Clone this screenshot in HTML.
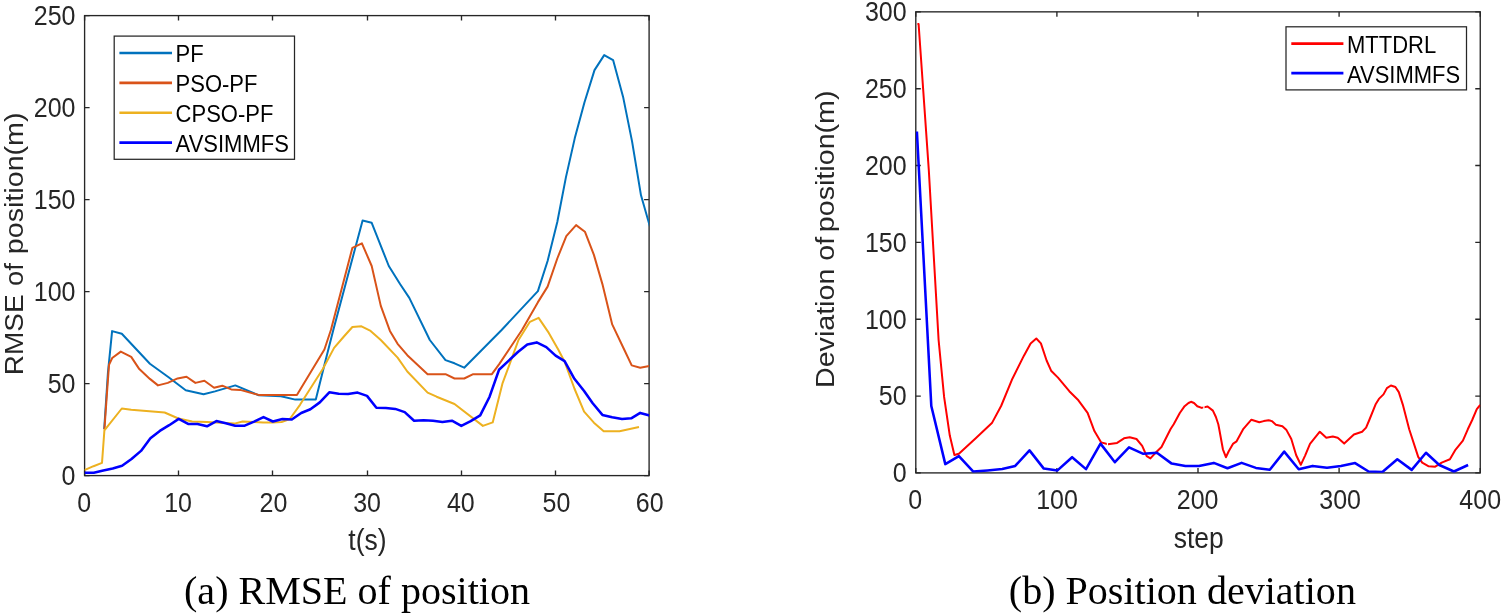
<!DOCTYPE html>
<html lang="en"><head><meta charset="utf-8"><title>Figure</title>
<style>
html,body{margin:0;padding:0;background:#fff;}
body{width:1502px;height:615px;overflow:hidden;}
svg{display:block}
text{font-family:"Liberation Sans",Arial,sans-serif;fill:#262626}
.tk{font-size:25px}
.lb{font-size:26.5px}
.lg{font-size:22px;fill:#000}
.cp{font-family:"Liberation Serif","Times New Roman",serif;font-size:40.05px;fill:#000}
</style></head><body>
<svg width="1502" height="615" viewBox="0 0 1502 615">
<rect width="1502" height="615" fill="#fff"/>
<rect x="84.6" y="15.6" width="564.50" height="460.00" fill="#fff" stroke="#262626" stroke-width="1.35"/>
<text class="tk" transform="translate(84.1 511.8) scale(1 1.08)" text-anchor="middle">0</text>
<text class="tk" transform="translate(178.1 511.8) scale(1 1.08)" text-anchor="middle">10</text>
<text class="tk" transform="translate(273.5 511.8) scale(1 1.08)" text-anchor="middle">20</text>
<text class="tk" transform="translate(367.1 511.8) scale(1 1.08)" text-anchor="middle">30</text>
<text class="tk" transform="translate(460.8 511.8) scale(1 1.08)" text-anchor="middle">40</text>
<text class="tk" transform="translate(556.4 511.8) scale(1 1.08)" text-anchor="middle">50</text>
<text class="tk" transform="translate(649.7 511.8) scale(1 1.08)" text-anchor="middle">60</text>
<text class="tk" transform="translate(75.5 484.9) scale(1 1.08)" text-anchor="end">0</text>
<text class="tk" transform="translate(75.5 392.9) scale(1 1.08)" text-anchor="end">50</text>
<text class="tk" transform="translate(75.5 300.9) scale(1 1.08)" text-anchor="end">100</text>
<text class="tk" transform="translate(75.5 208.9) scale(1 1.08)" text-anchor="end">150</text>
<text class="tk" transform="translate(75.5 116.9) scale(1 1.08)" text-anchor="end">200</text>
<text class="tk" transform="translate(75.5 24.9) scale(1 1.08)" text-anchor="end">250</text>
<path d="M84.6 475.6v-5M84.6 15.6v5M178.5 475.6v-5M178.5 15.6v5M272.5 475.6v-5M272.5 15.6v5M367.5 475.6v-5M367.5 15.6v5M461.5 475.6v-5M461.5 15.6v5M555.5 475.6v-5M555.5 15.6v5M649.1 475.6v-5M649.1 15.6v5M84.6 475.6h5M649.1 475.6h-5M84.6 383.6h5M649.1 383.6h-5M84.6 291.6h5M649.1 291.6h-5M84.6 199.6h5M649.1 199.6h-5M84.6 107.6h5M649.1 107.6h-5M84.6 15.6h5M649.1 15.6h-5" stroke="#262626" stroke-width="1.35" fill="none"/>
<text class="lb" transform="translate(367.5 550.0) scale(1 1.08)" text-anchor="middle">t(s)</text>
<text class="lb" transform="translate(22.6 375.2) rotate(-90) scale(1.055 1)" text-anchor="start">RMSE</text>
<text class="lb" transform="translate(22.6 286.0) rotate(-90) scale(1.03 1)" text-anchor="start">of</text>
<text class="lb" transform="translate(22.6 254.2) rotate(-90) scale(1.082 1)" text-anchor="start">position(m)</text>
<clipPath id="cl"><rect x="84.6" y="15.6" width="564.5" height="460.0"/></clipPath>
<g clip-path="url(#cl)">
<polyline points="104.2,429.0 107.9,373.2 112.1,331.1 121.8,333.8 149.9,363.7 168.6,377.2 185.7,390.2 203.6,394.3 215.0,391.4 235.3,385.4 258.9,395.3 281.0,396.3 295.3,399.6 315.8,399.6 324.4,365.0 333.3,330.0 362.6,220.5 371.7,222.8 388.8,266.0 400.2,284.2 409.3,297.9 429.8,340.0 445.5,360.1 454.5,363.3 464.2,367.7 501.6,330.0 537.9,291.1 547.6,261.0 557.3,222.0 565.9,177.4 574.8,138.1 584.5,102.3 594.5,70.1 604.2,55.1 613.1,60.1 623.1,96.9 632.1,141.6 641.0,195.3 650.0,226.8" fill="none" stroke="#0072BD" stroke-width="2.0" stroke-linejoin="round" stroke-linecap="butt"/>
<polyline points="104.4,429.6 106.7,397.0 109.0,364.9 112.2,358.0 120.8,351.6 131.2,356.9 139.3,369.1 149.9,378.9 158.0,385.4 167.8,382.9 177.6,378.4 186.5,376.7 195.4,382.9 204.4,380.8 214.1,387.8 222.3,385.7 231.2,389.4 240.2,389.9 259.4,395.1 296.9,395.1 324.4,349.5 330.9,330.0 352.4,247.8 361.9,243.3 371.7,266.0 380.8,305.9 389.9,330.9 397.6,343.8 407.3,355.2 427.6,374.2 445.5,374.2 454.5,378.5 464.2,378.5 473.2,374.2 491.9,374.2 499.2,364.1 522.0,330.0 537.8,302.4 547.6,286.6 557.3,258.5 566.3,236.1 576.1,225.1 584.9,231.7 593.9,254.9 602.4,284.1 612.2,324.4 624.4,350.0 631.7,365.4 640.2,367.8 649.3,366.1" fill="none" stroke="#D95319" stroke-width="2.0" stroke-linejoin="round" stroke-linecap="butt"/>
<polyline points="84.4,470.2 93.5,466.2 102.0,462.9 104.4,430.4 121.8,408.5 131.2,409.8 164.6,412.5 178.4,418.5 192.2,421.5 206.8,422.0 234.5,423.6 242.6,421.5 254.0,422.0 263.2,422.6 272.7,422.6 281.6,422.0 289.8,419.0 300.0,404.8 322.8,369.0 334.1,347.9 343.9,336.5 352.4,327.0 361.5,326.3 370.6,330.9 380.8,340.0 397.6,357.6 407.3,371.5 427.6,392.6 436.6,396.7 454.5,404.0 482.9,425.9 492.7,422.4 502.4,383.7 518.5,340.0 529.9,321.8 538.6,317.9 548.8,332.9 558.5,350.0 564.6,361.7 574.4,388.5 584.1,411.7 593.9,422.7 603.7,431.2 619.5,431.2 639.0,427.1" fill="none" stroke="#EDB120" stroke-width="2.0" stroke-linejoin="round" stroke-linecap="butt"/>
<polyline points="84.4,472.7 93.8,472.7 103.3,470.4 112.7,468.4 122.1,465.8 131.5,459.0 141.0,450.9 150.4,438.2 159.8,430.9 169.2,425.2 178.7,418.9 188.1,423.9 197.5,423.9 207.0,426.3 216.4,421.1 225.8,423.2 235.2,425.7 244.7,425.7 254.1,421.7 263.5,417.1 272.9,421.5 282.4,419.1 291.8,419.5 301.2,413.0 310.4,409.3 319.8,402.4 329.3,392.3 338.7,393.7 348.1,393.9 357.6,392.6 367.0,395.9 376.4,407.7 385.9,408.0 395.3,408.9 404.7,412.1 414.1,420.7 423.6,420.2 433.0,420.7 442.4,421.9 451.9,420.7 461.3,425.9 470.7,421.1 480.2,415.4 489.6,396.7 499.0,369.8 508.5,360.9 517.9,352.0 527.3,344.4 536.7,342.4 546.3,347.1 555.6,355.6 564.6,361.2 574.4,378.8 584.1,391.0 592.7,403.2 602.4,414.9 612.2,417.3 622.0,419.0 631.2,418.3 640.2,412.9 649.6,415.4" fill="none" stroke="#0000FF" stroke-width="2.55" stroke-linejoin="round" stroke-linecap="butt"/>
</g>
<rect x="114.2" y="36.1" width="180.3" height="123.2" fill="#fff" stroke="#262626" stroke-width="1.25"/>
<line x1="119.4" y1="53.0" x2="172.0" y2="53.0" stroke="#0072BD" stroke-width="2.6"/>
<text class="lg" transform="translate(175.6 61.9) scale(1 1.06)" text-anchor="start">PF</text>
<line x1="119.4" y1="82.9" x2="172.0" y2="82.9" stroke="#D95319" stroke-width="2.6"/>
<text class="lg" transform="translate(175.6 91.8) scale(1 1.06)" text-anchor="start">PSO-PF</text>
<line x1="119.4" y1="112.8" x2="172.0" y2="112.8" stroke="#EDB120" stroke-width="2.6"/>
<text class="lg" transform="translate(175.6 121.7) scale(1 1.06)" text-anchor="start">CPSO-PF</text>
<line x1="119.4" y1="142.7" x2="172.0" y2="142.7" stroke="#0000FF" stroke-width="2.8"/>
<text class="lg" transform="translate(175.6 151.6) scale(1 1.06)" text-anchor="start">AVSIMMFS</text>
<rect x="915.8" y="11.85" width="564.45" height="461.05" fill="#fff" stroke="#262626" stroke-width="1.35"/>
<text class="tk" transform="translate(915.1 509.2) scale(1 1.08)" text-anchor="middle">0</text>
<text class="tk" transform="translate(1057.0 509.2) scale(1 1.08)" text-anchor="middle">100</text>
<text class="tk" transform="translate(1197.6 509.2) scale(1 1.08)" text-anchor="middle">200</text>
<text class="tk" transform="translate(1340.1 509.2) scale(1 1.08)" text-anchor="middle">300</text>
<text class="tk" transform="translate(1480.2 509.2) scale(1 1.08)" text-anchor="middle">400</text>
<text class="tk" transform="translate(906.6 482.2) scale(1 1.08)" text-anchor="end">0</text>
<text class="tk" transform="translate(906.6 405.4) scale(1 1.08)" text-anchor="end">50</text>
<text class="tk" transform="translate(906.6 328.5) scale(1 1.08)" text-anchor="end">100</text>
<text class="tk" transform="translate(906.6 251.7) scale(1 1.08)" text-anchor="end">150</text>
<text class="tk" transform="translate(906.6 174.8) scale(1 1.08)" text-anchor="end">200</text>
<text class="tk" transform="translate(906.6 98.0) scale(1 1.08)" text-anchor="end">250</text>
<text class="tk" transform="translate(906.6 21.2) scale(1 1.08)" text-anchor="end">300</text>
<path d="M915.8 472.9v-5M915.8 11.85v5M1056.9 472.9v-5M1056.9 11.85v5M1198.0 472.9v-5M1198.0 11.85v5M1339.1 472.9v-5M1339.1 11.85v5M1480.2 472.9v-5M1480.2 11.85v5M915.8 472.9h5M1480.25 472.9h-5M915.8 396.1h5M1480.25 396.1h-5M915.8 319.2h5M1480.25 319.2h-5M915.8 242.4h5M1480.25 242.4h-5M915.8 165.5h5M1480.25 165.5h-5M915.8 88.7h5M1480.25 88.7h-5M915.8 11.9h5M1480.25 11.9h-5" stroke="#262626" stroke-width="1.35" fill="none"/>
<text class="lb" transform="translate(1198.8 547.9) scale(1 1.08)" text-anchor="middle">step</text>
<text class="lb" transform="translate(833.8 388.0) rotate(-90) scale(1.08 1)" text-anchor="start">Deviation of</text>
<text class="lb" transform="translate(833.8 232.2) rotate(-90) scale(1.082 1)" text-anchor="start">position(m)</text>
<clipPath id="cr"><rect x="915.8" y="11.85" width="564.5" height="461.0"/></clipPath>
<g clip-path="url(#cr)">
<polyline points="917.4,24.0 918.6,24.0 928.8,170.0 938.6,340.0 944.1,396.9 949.8,435.6 954.4,455.0 958.9,453.8 976.0,437.9 991.9,423.1 1001.1,406.0 1012.4,378.7 1023.8,355.9 1030.6,343.4 1036.3,338.5 1040.9,343.4 1046.6,360.5 1051.1,370.7 1058.0,377.6 1069.3,391.2 1078.4,400.3 1087.6,412.8 1094.4,431.1 1101.2,442.4 1108.0,444.3 1117.1,442.9 1124.0,438.3 1129.7,437.2 1136.5,439.0 1142.2,445.9 1146.7,456.1 1150.4,458.4 1154.6,453.8 1161.5,447.0 1170.6,429.0 1173.7,424.3 1179.8,413.0 1184.6,406.2 1188.5,403.0 1191.0,401.8 1194.0,403.0 1197.3,406.2 1201.7,407.9 1207.6,406.5 1212.9,410.6 1215.9,417.0 1218.3,424.3 1219.4,430.0 1222.9,449.3 1225.9,457.2 1228.6,451.5 1233.2,443.6 1236.6,441.3 1243.4,428.8 1251.4,419.7 1259.3,422.2 1263.7,421.1 1268.6,420.3 1271.8,421.1 1275.9,424.7 1282.4,426.3 1286.5,430.1 1291.3,439.0 1296.2,455.3 1300.8,464.8 1305.2,455.3 1310.0,443.9 1319.8,431.7 1326.3,437.7 1332.8,436.6 1337.7,437.7 1344.2,443.6 1353.9,434.5 1362.1,431.7 1366.1,427.6 1369.3,420.0 1375.5,404.6 1378.9,398.9 1383.5,394.4 1386.9,388.1 1390.9,385.5 1395.4,387.0 1398.8,392.1 1402.8,404.6 1406.8,420.0 1409.2,429.3 1418.2,456.9 1422.2,462.6 1428.7,466.3 1435.2,466.7 1441.7,462.6 1449.9,459.3 1455.6,449.6 1462.9,440.7 1467.8,429.3 1472.2,420.0 1476.8,409.2 1480.2,405.0" fill="none" stroke="#FF0000" stroke-width="2.0" stroke-linejoin="round" stroke-linecap="butt"/>
<path d="M1107.4 441.5v6M1203.9 405v6" stroke="#fff" stroke-width="1.2" fill="none"/>
<polyline points="916.9,131.5 931.3,406.0 945.3,464.1 958.9,456.1 973.3,471.6 987.4,470.4 1002.2,469.1 1015.2,465.9 1029.5,450.4 1043.8,468.6 1057.5,470.4 1072.1,457.2 1086.0,469.1 1100.5,443.6 1114.9,462.2 1129.0,447.4 1143.3,453.8 1156.9,452.7 1171.7,463.6 1185.4,465.9 1199.0,465.9 1213.8,462.9 1227.5,468.2 1241.6,462.9 1255.9,467.9 1269.8,469.8 1284.2,451.6 1298.7,469.2 1312.6,465.9 1327.0,467.8 1340.9,465.9 1355.1,463.1 1368.6,471.5 1382.4,472.0 1397.3,459.3 1411.7,469.9 1426.0,452.8 1439.3,465.0 1453.9,471.5 1468.1,465.0" fill="none" stroke="#0000FF" stroke-width="2.55" stroke-linejoin="round" stroke-linecap="butt"/>
</g>
<rect x="1286.0" y="26.8" width="180.5" height="63.1" fill="#fff" stroke="#262626" stroke-width="1.25"/>
<line x1="1291.3" y1="43.6" x2="1343.4" y2="43.6" stroke="#FF0000" stroke-width="2.6"/>
<text class="lg" transform="translate(1347.0 52.8) scale(1 1.06)" text-anchor="start">MTTDRL</text>
<line x1="1291.3" y1="73.2" x2="1343.4" y2="73.2" stroke="#0000FF" stroke-width="2.8"/>
<text class="lg" transform="translate(1347.0 83.3) scale(1 1.06)" text-anchor="start">AVSIMMFS</text>
<text class="cp" x="357.0" y="604.3" text-anchor="middle">(a) RMSE of position</text>
<text class="cp" x="1182.4" y="604.3" text-anchor="middle">(b) Position deviation</text>
</svg>
</body></html>
